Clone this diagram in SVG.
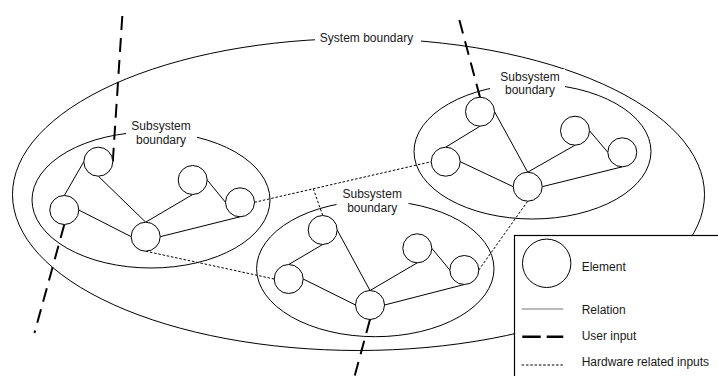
<svg xmlns="http://www.w3.org/2000/svg" width="718" height="376" viewBox="0 0 718 376">
<style>
.bd{fill:none;stroke:#000;stroke-width:1}
.el{fill:#fff;stroke:#000;stroke-width:1}
.rel{stroke:#000;stroke-width:1;fill:none}
.usr{stroke:#000;stroke-width:2;stroke-dasharray:14 8;fill:none}
.hw{stroke:#000;stroke-width:1;stroke-dasharray:2.5 1.8;fill:none}
.bg{fill:#fff;stroke:none}
text{font-family:"Liberation Sans",Arial,sans-serif;font-size:12px;fill:#1a1a1a}
.c{text-anchor:middle}
</style>
<rect width="718" height="376" fill="#fff"/>
<g id="system-boundary">
<ellipse class="bd" cx="358.5" cy="194.5" rx="346" ry="156"/>
<rect class="bg" x="315" y="31" width="106" height="16"/>
<text class="c" x="366.5" y="42.3">System boundary</text>
</g>
<g id="subsystem-left">
<ellipse class="bd" cx="151" cy="200" rx="119" ry="68"/>
<rect class="bg" x="126" y="119" width="71" height="28"/>
<text class="c" x="161" y="130.3">Subsystem</text>
<text class="c" x="161" y="143.8">boundary</text>
</g>
<g id="subsystem-right">
<ellipse class="bd" cx="532.5" cy="151.5" rx="118.5" ry="67.5"/>
<rect class="bg" x="490" y="69" width="75" height="28"/>
<text class="c" x="530" y="80.5">Subsystem</text>
<text class="c" x="530" y="94">boundary</text>
</g>
<g id="subsystem-middle">
<ellipse class="bd" cx="375.3" cy="268.7" rx="118.7" ry="68"/>
<rect class="bg" x="336.5" y="187" width="72" height="28"/>
<text class="c" x="372.2" y="198">Subsystem</text>
<text class="c" x="372.2" y="211.5">boundary</text>
</g>
<g id="connectors">
<g id="relations">
<line class="rel" x1="83.8" y1="161.7" x2="64.3" y2="195.5"/>
<line class="rel" x1="98.3" y1="176.2" x2="145.7" y2="222.2"/>
<line class="rel" x1="78.8" y1="210" x2="131.2" y2="236.7"/>
<line class="rel" x1="145.7" y1="222.2" x2="192.7" y2="194.5"/>
<line class="rel" x1="160.2" y1="236.7" x2="240" y2="216.8"/>
<line class="rel" x1="207.2" y1="180" x2="225.5" y2="202.3"/>
<line class="rel" x1="480" y1="126.2" x2="445.7" y2="147.2"/>
<line class="rel" x1="494.5" y1="111.7" x2="527.7" y2="172.2"/>
<line class="rel" x1="460.2" y1="161.7" x2="513.2" y2="186.7"/>
<line class="rel" x1="527.7" y1="172.2" x2="575" y2="145.2"/>
<line class="rel" x1="542.2" y1="186.7" x2="622.3" y2="166.8"/>
<line class="rel" x1="589.5" y1="130.7" x2="607.8" y2="152.3"/>
<line class="rel" x1="322.7" y1="244.5" x2="288.7" y2="264.5"/>
<line class="rel" x1="337.2" y1="230" x2="370" y2="290.5"/>
<line class="rel" x1="303.2" y1="279" x2="355.5" y2="305"/>
<line class="rel" x1="370" y1="290.5" x2="417.3" y2="262.8"/>
<line class="rel" x1="384.5" y1="305" x2="464.3" y2="284.5"/>
<line class="rel" x1="431.8" y1="248.3" x2="449.8" y2="270"/>
</g>
<g id="user-inputs">
<line class="usr" x1="112.8" y1="161.7" x2="122.5" y2="13"/>
<line class="usr" x1="64.3" y1="224.5" x2="34.5" y2="333"/>
<line class="usr" x1="480" y1="97.2" x2="457.5" y2="13"/>
<line class="usr" x1="370" y1="319.5" x2="353" y2="382"/>
</g>
<g id="hardware-inputs">
<line class="hw" x1="254.5" y1="202.3" x2="431.2" y2="161.7"/>
<line class="hw" x1="313.3" y1="188.7" x2="322.7" y2="215.5"/>
<line class="hw" x1="145.7" y1="251.2" x2="274.2" y2="279"/>
<line class="hw" x1="478.8" y1="270" x2="527.7" y2="201.2"/>
</g>
</g>
<g id="node-l1"><circle class="el" cx="98.3" cy="161.7" r="14.5"/></g>
<g id="node-l2"><circle class="el" cx="64.3" cy="210" r="14.5"/></g>
<g id="node-l3"><circle class="el" cx="145.7" cy="236.7" r="14.5"/></g>
<g id="node-l4"><circle class="el" cx="192.7" cy="180" r="14.5"/></g>
<g id="node-l5"><circle class="el" cx="240" cy="202.3" r="14.5"/></g>
<g id="node-r1"><circle class="el" cx="480" cy="111.7" r="14.5"/></g>
<g id="node-r2"><circle class="el" cx="445.7" cy="161.7" r="14.5"/></g>
<g id="node-r3"><circle class="el" cx="527.7" cy="186.7" r="14.5"/></g>
<g id="node-r4"><circle class="el" cx="575" cy="130.7" r="14.5"/></g>
<g id="node-r5"><circle class="el" cx="622.3" cy="152.3" r="14.5"/></g>
<g id="node-m1"><circle class="el" cx="322.7" cy="230" r="14.5"/></g>
<g id="node-m2"><circle class="el" cx="288.7" cy="279" r="14.5"/></g>
<g id="node-m3"><circle class="el" cx="370" cy="305" r="14.5"/></g>
<g id="node-m4"><circle class="el" cx="417.3" cy="248.3" r="14.5"/></g>
<g id="node-m5"><circle class="el" cx="464.3" cy="270" r="14.5"/></g>
<g id="legend">
<rect x="514.5" y="235.5" width="230" height="160" fill="#fff" stroke="#000" stroke-width="1.2"/>
<circle class="el" cx="546.7" cy="263.3" r="24.2"/>
<text x="581.7" y="271">Element</text>
<line x1="521.7" y1="309" x2="563.3" y2="309" stroke="#777" stroke-width="1.2"/>
<text x="581.7" y="313.6">Relation</text>
<line x1="522.3" y1="336.7" x2="563.3" y2="336.7" stroke="#000" stroke-width="2.5" stroke-dasharray="18.4 6"/>
<text x="581.7" y="340.3">User input</text>
<line class="hw" x1="521.7" y1="365" x2="563.3" y2="365"/>
<text x="581.7" y="366">Hardware related inputs</text>
</g>
</svg>
